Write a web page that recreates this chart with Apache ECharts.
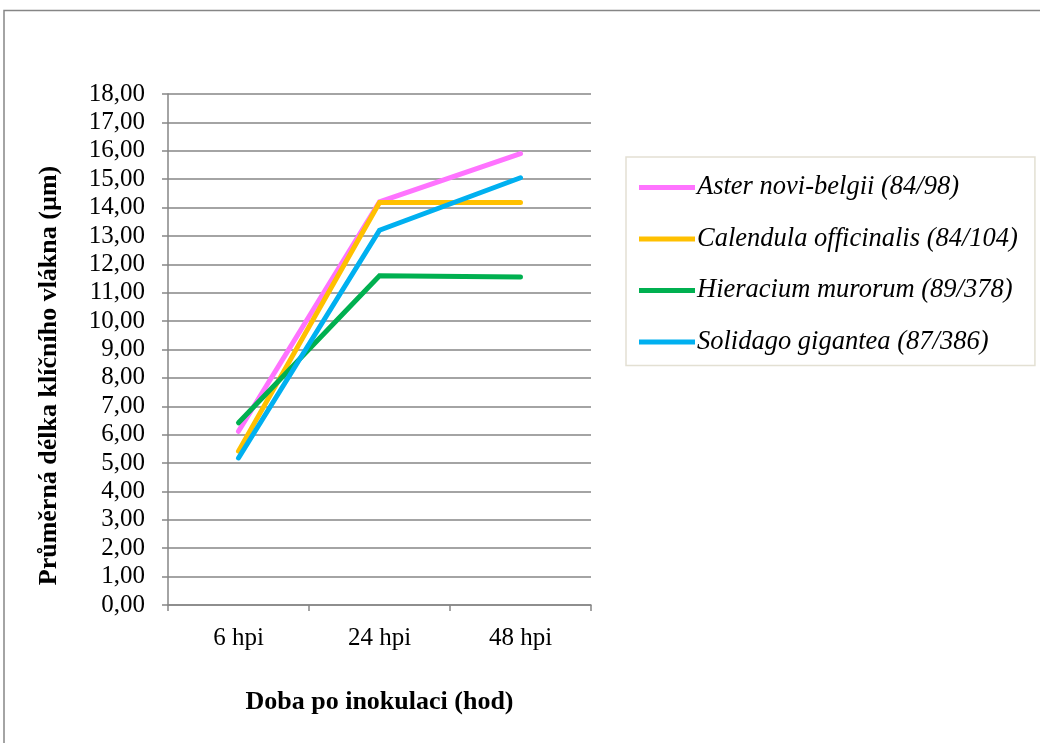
<!DOCTYPE html>
<html><head><meta charset="utf-8">
<script src="https://cdn.jsdelivr.net/npm/echarts@6/dist/echarts.min.js"></script>
<style>html,body{margin:0;padding:0;background:#fff}#c{width:1040px;height:743px}</style>
</head><body><div id="c"></div>
<script>
const categories = ['6 hpi', '24 hpi', '48 hpi'];
const seriesNames = ['Aster novi-belgii (84/98)', 'Calendula officinalis (84/104)', 'Hieracium murorum (89/378)', 'Solidago gigantea (87/386)'];
const aster = [6.12, 14.2, 15.9];
const calendula = [5.42, 14.18, 14.18];
const hieracium = [6.42, 11.6, 11.55];
const solidago = [5.18, 13.2, 15.05];
const colors = ['#FF73FF', '#FFC000', '#00B050', '#00B0F0'];

const chart = echarts.init(document.getElementById('c'), null, {renderer: 'canvas'});
const font = '"Liberation Serif", "Times New Roman", serif';
const data = [aster, calendula, hieracium, solidago];
chart.setOption({
  animation: false,
  backgroundColor: '#fff',
  graphic: [{
    type: 'rect', shape: {x: 4, y: 10.5, width: 1100, height: 800},
    style: {fill: 'none', stroke: '#868686', lineWidth: 1.5}, silent: true
  }],
  grid: {left: 168, right: 449, top: 94, bottom: 138, containLabel: false},
  legend: {
    orient: 'vertical', left: 626, top: 157,
    padding: [17, 17, 10, 13], itemGap: 24.5,
    itemWidth: 56, itemHeight: 5, icon: 'rect',
    borderColor: '#E3E0D3', borderWidth: 1.5,
    textStyle: {fontFamily: font, fontStyle: 'italic', fontSize: 26.5, color: '#000', lineHeight: 26, padding: [0,0,0,-3]},
    data: seriesNames
  },
  xAxis: {
    type: 'category', data: categories, boundaryGap: true,
    axisLine: {lineStyle: {color: '#868686', width: 1.5}},
    axisTick: {show: true, length: 6, lineStyle: {color: '#868686', width: 1.5}},
    axisLabel: {fontFamily: font, fontSize: 25, color: '#000', margin: 21},
    name: 'Doba po inokulaci (hod)', nameLocation: 'middle', nameGap: 84,
    nameTextStyle: {fontFamily: font, fontSize: 26, fontWeight: 'bold', color: '#000'}
  },
  yAxis: {
    type: 'value', min: 0, max: 18, interval: 1,
    axisLine: {show: true, lineStyle: {color: '#868686', width: 1.5}},
    axisTick: {show: true, length: 6, lineStyle: {color: '#868686', width: 1.5}},
    splitLine: {lineStyle: {color: '#868686', width: 1.5}},
    axisLabel: {fontFamily: font, fontSize: 25, color: '#000', margin: 23,
      formatter: v => v.toFixed(2).replace('.', ',')},
    name: 'Průměrná délka klíčního vlákna (µm)', nameLocation: 'middle', nameGap: 106,
    nameTextStyle: {fontFamily: font, fontSize: 26, fontWeight: 'bold', color: '#000', padding: [0, 52, 0, 0]}
  },
  series: seriesNames.map((n, i) => ({
    name: n, type: 'line', data: data[i], showSymbol: false, symbol: 'none',
    lineStyle: {color: colors[i], width: 5, cap: 'round', join: 'miter'},
    itemStyle: {color: colors[i]}
  }))
});
</script></body></html>
